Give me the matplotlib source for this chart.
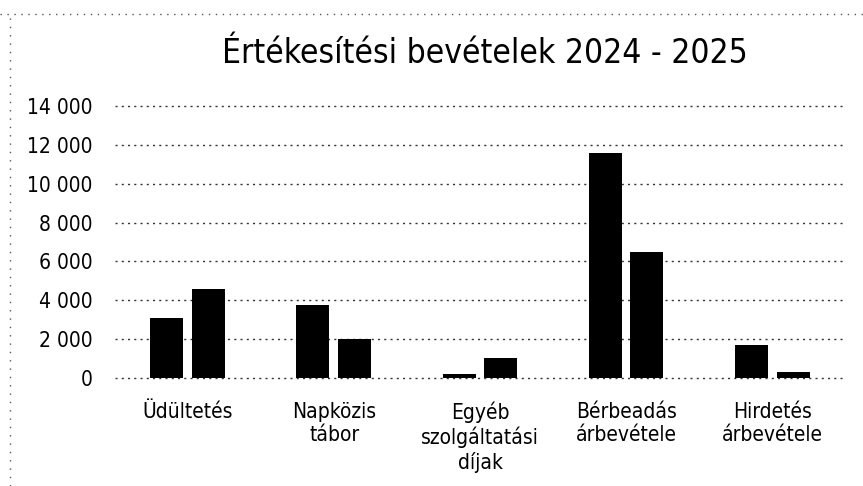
import matplotlib
matplotlib.use("Agg")
import matplotlib.pyplot as plt
import numpy as np
from matplotlib.lines import Line2D
from matplotlib import font_manager

names = sorted({f.name + "|" + str(f.stretch) for f in font_manager.fontManager.ttflist})
print(names)

plt.rcParams['font.family'] = ['DejaVu Sans']
plt.rcParams['font.stretch'] = 'condensed'

categories = ["Üdültetés", "Napközis\ntábor", "Egyéb\nszolgáltatási\ndíjak",
              "Bérbeadás\nárbevétele", "Hirdetés\nárbevétele"]
values_2024 = [3080, 3750, 200, 11600, 1680]
values_2025 = [4580, 2020, 1040, 6480, 300]
yticks = [0, 2000, 4000, 6000, 8000, 10000, 12000, 14000]
ytick_labels = ["0", "2 000", "4 000", "6 000", "8 000", "10 000", "12 000", "14 000"]
title = "Értékesítési bevételek 2024 - 2025"

fig = plt.figure(figsize=(8.63, 4.86), dpi=100)
ax = fig.add_axes([0.133, 0.222, 0.847, 0.56])

x = np.arange(len(categories))
w = 0.225
ax.bar(x - 0.145, values_2024, width=w, color="black", zorder=3)
ax.bar(x + 0.14, values_2025, width=w, color="black", zorder=3)

ax.set_xlim(-0.5, len(categories) - 0.5)
ax.set_ylim(0, 14000)
ax.set_yticks(yticks)
ax.set_yticklabels(ytick_labels, fontsize=15)
ax.set_xticks(x)
ax.set_xticklabels(categories, fontsize=15, linespacing=1.2)
ax.tick_params(axis='x', length=0, pad=17)
ax.tick_params(axis='y', length=0, pad=16)
for s in ax.spines.values():
    s.set_visible(False)
ax.yaxis.grid(True, color="#333333", linestyle=(0, (1.5, 3)), linewidth=1.0, zorder=0)
for gl in ax.get_ygridlines():
    gl.set_clip_on(False)
ax.set_axisbelow(True)

fig.text(0.562, 0.89, title, ha="center", va="center", fontsize=24)

# scan-edge dotted borders
fig.add_artist(Line2D([0.0, 1.0], [0.972, 0.972], transform=fig.transFigure,
                      color="#555555", linestyle=(0, (1, 4)), linewidth=1.0))
fig.add_artist(Line2D([0.012, 0.012], [0.0, 0.97], transform=fig.transFigure,
                      color="#555555", linestyle=(0, (1, 5)), linewidth=1.0))

fig.savefig("out.png", dpi=100)
